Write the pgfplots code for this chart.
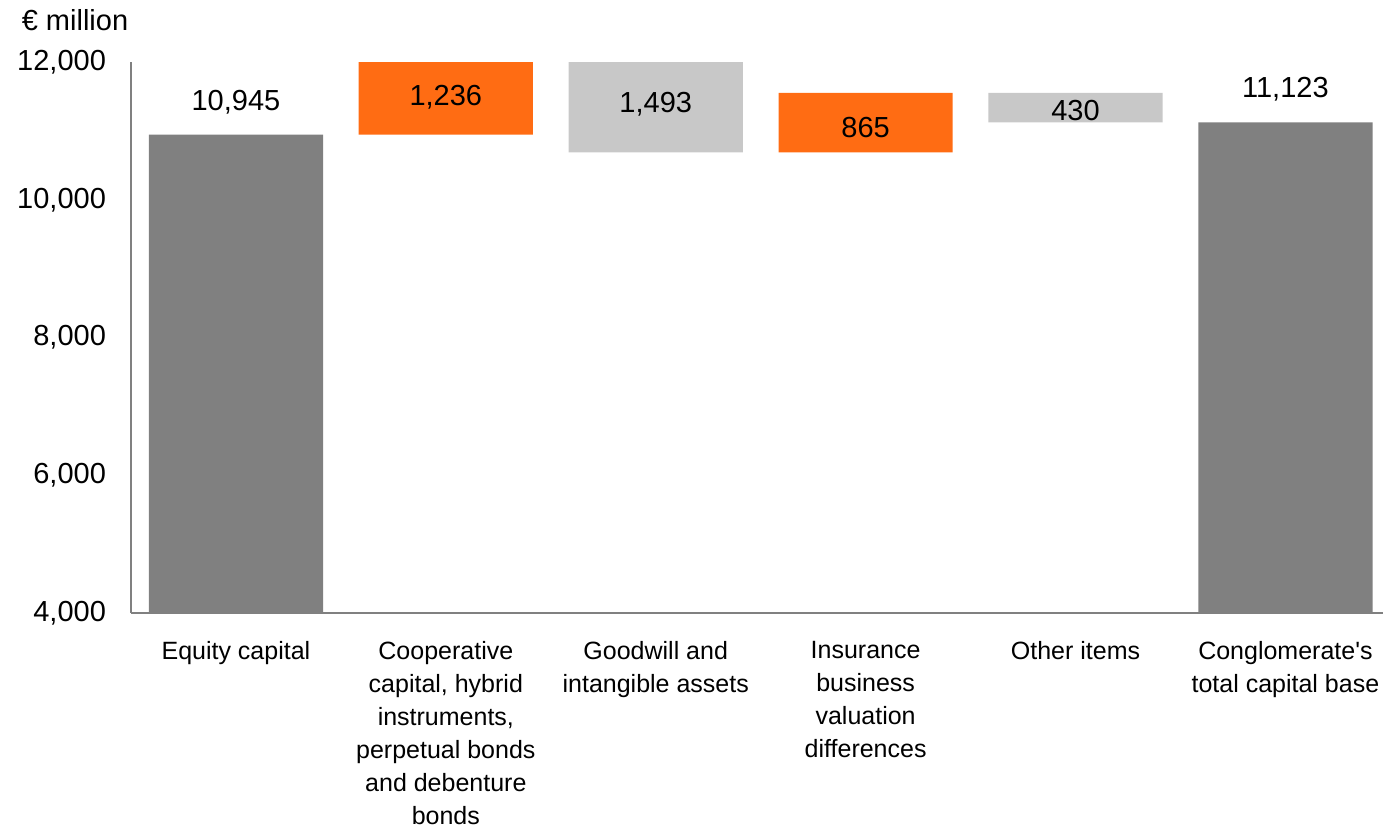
\documentclass[border=0pt]{standalone}
\usepackage{fontspec}
\setmainfont{Liberation Sans}
\usepackage{pgfplots}
\pgfplotsset{compat=1.18}
\definecolor{dgrey}{HTML}{808080}
\definecolor{lgrey}{HTML}{C8C8C8}
\definecolor{orng}{HTML}{FF6C13}
\definecolor{axgrey}{HTML}{808080}
\begin{document}
\begin{tikzpicture}
\useasboundingbox (-65.5pt,-108pt) rectangle (626pt,306.5pt);
\begin{axis}[
  at={(0,0)}, anchor=south west,
  scale only axis, width=626pt, height=275.5pt,
  xmin=-0.5, xmax=5.465, ymin=4000, ymax=12000,
  ybar stacked, bar width=0.83,
  axis lines=left, axis line style={-, draw=axgrey, line width=0.6pt},
  major tick length=0pt,
  xtick={0,1,2,3,4,5},
  xticklabels={Equity capital,
    {Cooperative\\capital, hybrid\\instruments,\\perpetual bonds\\and debenture\\bonds},
    {Goodwill and\\intangible assets},
    {Insurance\\business\\valuation\\differences},
    Other items,
    {Conglomerate\textquotesingle s\\total capital base}},
  xticklabel style={font=\fontsize{12.5}{16.5}\selectfont, align=center, anchor=north, yshift=-10.5pt},
  ytick={4000,6000,8000,10000,12000},
  scaled y ticks=false,
  yticklabel style={font=\fontsize{14.5}{17}\selectfont, xshift=-9pt},
  /pgf/number format/1000 sep={,},
  /pgf/number format/assume math mode=true,
]
\addplot[draw=none, fill=none] coordinates {(0,0) (1,10945) (2,10688) (3,10688) (4,11123) (5,0)};
\addplot[draw=none, fill=dgrey] coordinates {(0,10945) (1,0) (2,0) (3,0) (4,0) (5,11123)};
\addplot[draw=none, fill=orng] coordinates {(0,0) (1,1236) (2,0) (3,865) (4,0) (5,0)};
\addplot[draw=none, fill=lgrey] coordinates {(0,0) (1,0) (2,1493) (3,0) (4,430) (5,0)};
\coordinate (l0) at (axis cs:0,11410);
\coordinate (l1) at (axis cs:1,11490);
\coordinate (l2) at (axis cs:2,11390);
\coordinate (l3) at (axis cs:3,11050);
\coordinate (l4) at (axis cs:4,11290);
\coordinate (l5) at (axis cs:5,11600);
\end{axis}
\begin{scope}[every node/.style={font=\fontsize{14.5}{17}\selectfont}]
\node at (l0) {10,945};
\node at (l1) {1,236};
\node at (l2) {1,493};
\node at (l3) {865};
\node at (l4) {430};
\node at (l5) {11,123};
\end{scope}
\node[font=\fontsize{14.5}{17}\selectfont] at (-28pt,296.5pt) {€ million};
\end{tikzpicture}
\end{document}
